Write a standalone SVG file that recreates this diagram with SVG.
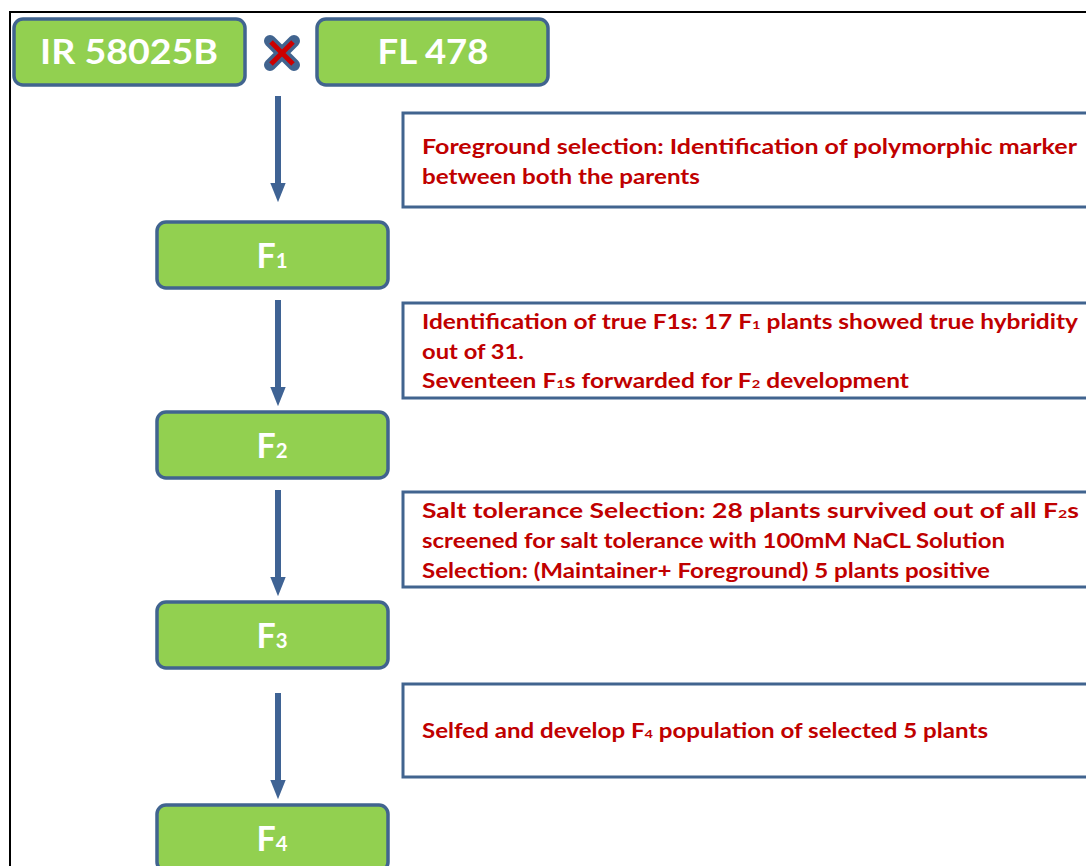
<svg xmlns="http://www.w3.org/2000/svg" width="1086" height="866" viewBox="0 0 1086 866">
<defs>
<style>
.node rect{fill:#92D050;stroke:#41648F;stroke-width:3.5}
.node text{font-family:Lato,"Liberation Sans",sans-serif;font-size:34px;font-weight:bold;fill:#fff;text-anchor:middle}
.note rect{fill:#fff;stroke:#41648F;stroke-width:3}
.note text{font-family:Lato,"Liberation Sans",sans-serif;font-size:20px;font-weight:bold;fill:#C00000}
.sub{font-size:60%}
.conn line{stroke:#3F6394;stroke-width:6}
</style>
<marker id="ah" viewBox="0 0 10 8" refX="0" refY="4" markerWidth="3.2" markerHeight="2.6" markerUnits="strokeWidth" orient="auto">
<path d="M0,0 L10,4 L0,8 Z" fill="#3F6394"/>
</marker>
</defs>
<rect x="0" y="0" width="1086" height="866" fill="#fff"/>
<path d="M10,866 V12 H1086" fill="none" stroke="#000" stroke-width="2"/>

<g id="n-ir" class="node"><rect x="14" y="19" width="231" height="66" rx="9"/><text x="129" y="64" textLength="178" lengthAdjust="spacingAndGlyphs">IR 58025B</text></g>
<g id="n-fl" class="node"><rect x="317" y="19" width="231" height="66" rx="9"/><text x="433" y="64" textLength="111" lengthAdjust="spacingAndGlyphs">FL 478</text></g>
<g id="cross">
<path d="M270,41 L294,65 M294,41 L270,65" stroke="#41648F" stroke-width="12" stroke-linecap="round"/>
<path d="M271,42 L293,64 M293,42 L271,64" stroke="#CC0000" stroke-width="5"/>
</g>
<g id="n-f1" class="node"><rect x="157" y="222" width="231" height="66" rx="9"/><text x="272" y="268">F<tspan class="sub">1</tspan></text></g>
<g id="n-f2" class="node"><rect x="157" y="412" width="231" height="66" rx="9"/><text x="272" y="458">F<tspan class="sub">2</tspan></text></g>
<g id="n-f3" class="node"><rect x="157" y="602" width="231" height="66" rx="9"/><text x="272" y="648">F<tspan class="sub">3</tspan></text></g>
<g id="n-f4" class="node"><rect x="157" y="805" width="231" height="66" rx="9"/><text x="272" y="851">F<tspan class="sub">4</tspan></text></g>

<g id="note1" class="note"><rect x="403" y="113" width="700" height="94"/>
<text x="422" y="154" textLength="655" lengthAdjust="spacingAndGlyphs">Foreground selection: Identification of polymorphic marker</text>
<text x="422" y="184" textLength="278" lengthAdjust="spacingAndGlyphs">between both the parents</text></g>
<g id="note2" class="note"><rect x="403" y="303" width="700" height="95"/>
<text x="422" y="329" textLength="656" lengthAdjust="spacingAndGlyphs">Identification of true F1s: 17 F<tspan class="sub">1</tspan> plants showed true hybridity</text>
<text x="422" y="359" textLength="102" lengthAdjust="spacingAndGlyphs">out of 31.</text>
<text x="422" y="388" textLength="487" lengthAdjust="spacingAndGlyphs">Seventeen F<tspan class="sub">1</tspan>s  forwarded for F<tspan class="sub">2</tspan> development</text></g>
<g id="note3" class="note"><rect x="403" y="492" width="700" height="95"/>
<text x="422" y="518" textLength="657" lengthAdjust="spacingAndGlyphs">Salt tolerance Selection: 28 plants survived out of all F<tspan class="sub">2</tspan>s</text>
<text x="422" y="548" textLength="583" lengthAdjust="spacingAndGlyphs">screened for salt tolerance with 100mM NaCL Solution</text>
<text x="422" y="578" textLength="568" lengthAdjust="spacingAndGlyphs">Selection: (Maintainer+ Foreground) 5 plants positive</text></g>
<g id="note4" class="note"><rect x="403" y="684" width="700" height="93"/>
<text x="422" y="738" textLength="566" lengthAdjust="spacingAndGlyphs">Selfed and develop F<tspan class="sub">4</tspan> population of selected 5 plants</text></g>

<g id="connectors" class="conn">
<line x1="278" y1="96" x2="278" y2="183" marker-end="url(#ah)"/>
<line x1="278" y1="300" x2="278" y2="387" marker-end="url(#ah)"/>
<line x1="278" y1="490" x2="278" y2="577" marker-end="url(#ah)"/>
<line x1="278" y1="693" x2="278" y2="780" marker-end="url(#ah)"/>
</g>
</svg>
